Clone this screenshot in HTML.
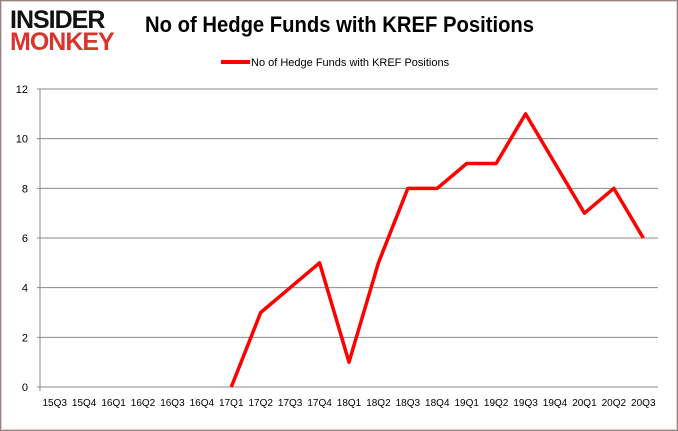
<!DOCTYPE html>
<html><head><meta charset="utf-8"><style>
body{margin:0;width:678px;height:431px;overflow:hidden;background:#fff;font-family:"Liberation Sans",sans-serif}
#frame{position:absolute;left:0;top:0;width:676px;height:429px;border:1px solid #888;box-shadow:inset 0 0 0 1px #f3caca}
</style></head><body>
<div id="frame"></div>
<div style="position:absolute;left:10px;top:9px;font-weight:900;line-height:22px;font-size:25px;letter-spacing:-1px">
<div style="color:#111">INSIDER</div><div style="color:#d9362b">MONKEY</div></div>
<div style="position:absolute;left:145px;top:12px;font-size:22px;font-weight:bold;color:#000;transform:scaleX(0.92);transform-origin:0 0;white-space:nowrap">No of Hedge Funds with KREF Positions</div>
<svg id="c" width="678" height="431" style="position:absolute;left:0;top:0" font-family="Liberation Sans, sans-serif"></svg>
<script>
const categories=["15Q3","15Q4","16Q1","16Q2","16Q3","16Q4","17Q1","17Q2","17Q3","17Q4","18Q1","18Q2","18Q3","18Q4","19Q1","19Q2","19Q3","19Q4","20Q1","20Q2","20Q3"];
const values=[null,null,null,null,null,null,0,3,4,5,1,5,8,8,9,9,11,9,7,8,6];
const yTicks=[0,2,4,6,8,10,12];
const svg=document.getElementById('c'),NS='http://www.w3.org/2000/svg';
const L=40,R=658,T=89,B=387,yMax=12;
const bw=(R-L)/categories.length;
const x=i=>L+bw*(i+0.5), y=v=>B-(v/yMax)*(B-T);
function mk(t,a,p){const e=document.createElementNS(NS,t);for(const k in a)e.setAttribute(k,a[k]);(p||svg).appendChild(e);return e;}
yTicks.forEach(v=>{
 const g=mk('line',{x1:L-3,x2:R,y1:y(v),y2:y(v),stroke:'#888','stroke-width':1});
 
 
 const t=mk('text',{x:L-12,y:y(v)+4,'text-anchor':'end','font-size':11,fill:'#000'});t.textContent=v;
 
 
});
const ax=mk('line',{x1:L,x2:L,y1:T,y2:B+4,stroke:'#888'});


categories.forEach((c,i)=>{
 const t=mk('text',{x:x(i),y:B+19,'text-anchor':'middle','font-size':10,fill:'#000'});t.textContent=c;
 
 
});
let d='';values.forEach((v,i)=>{if(v==null)return;d+=(d?'L':'M')+x(i)+','+y(v);});
const p=mk('path',{d:d,fill:'none',stroke:'#f00','stroke-width':3.5,'stroke-linejoin':'round'});


const lg=mk('line',{x1:221,x2:250,y1:62,y2:62,stroke:'#f00','stroke-width':4});


const lt=mk('text',{x:251,y:66,'font-size':11,fill:'#000'});lt.textContent='No of Hedge Funds with KREF Positions';


</script>
</body></html>
